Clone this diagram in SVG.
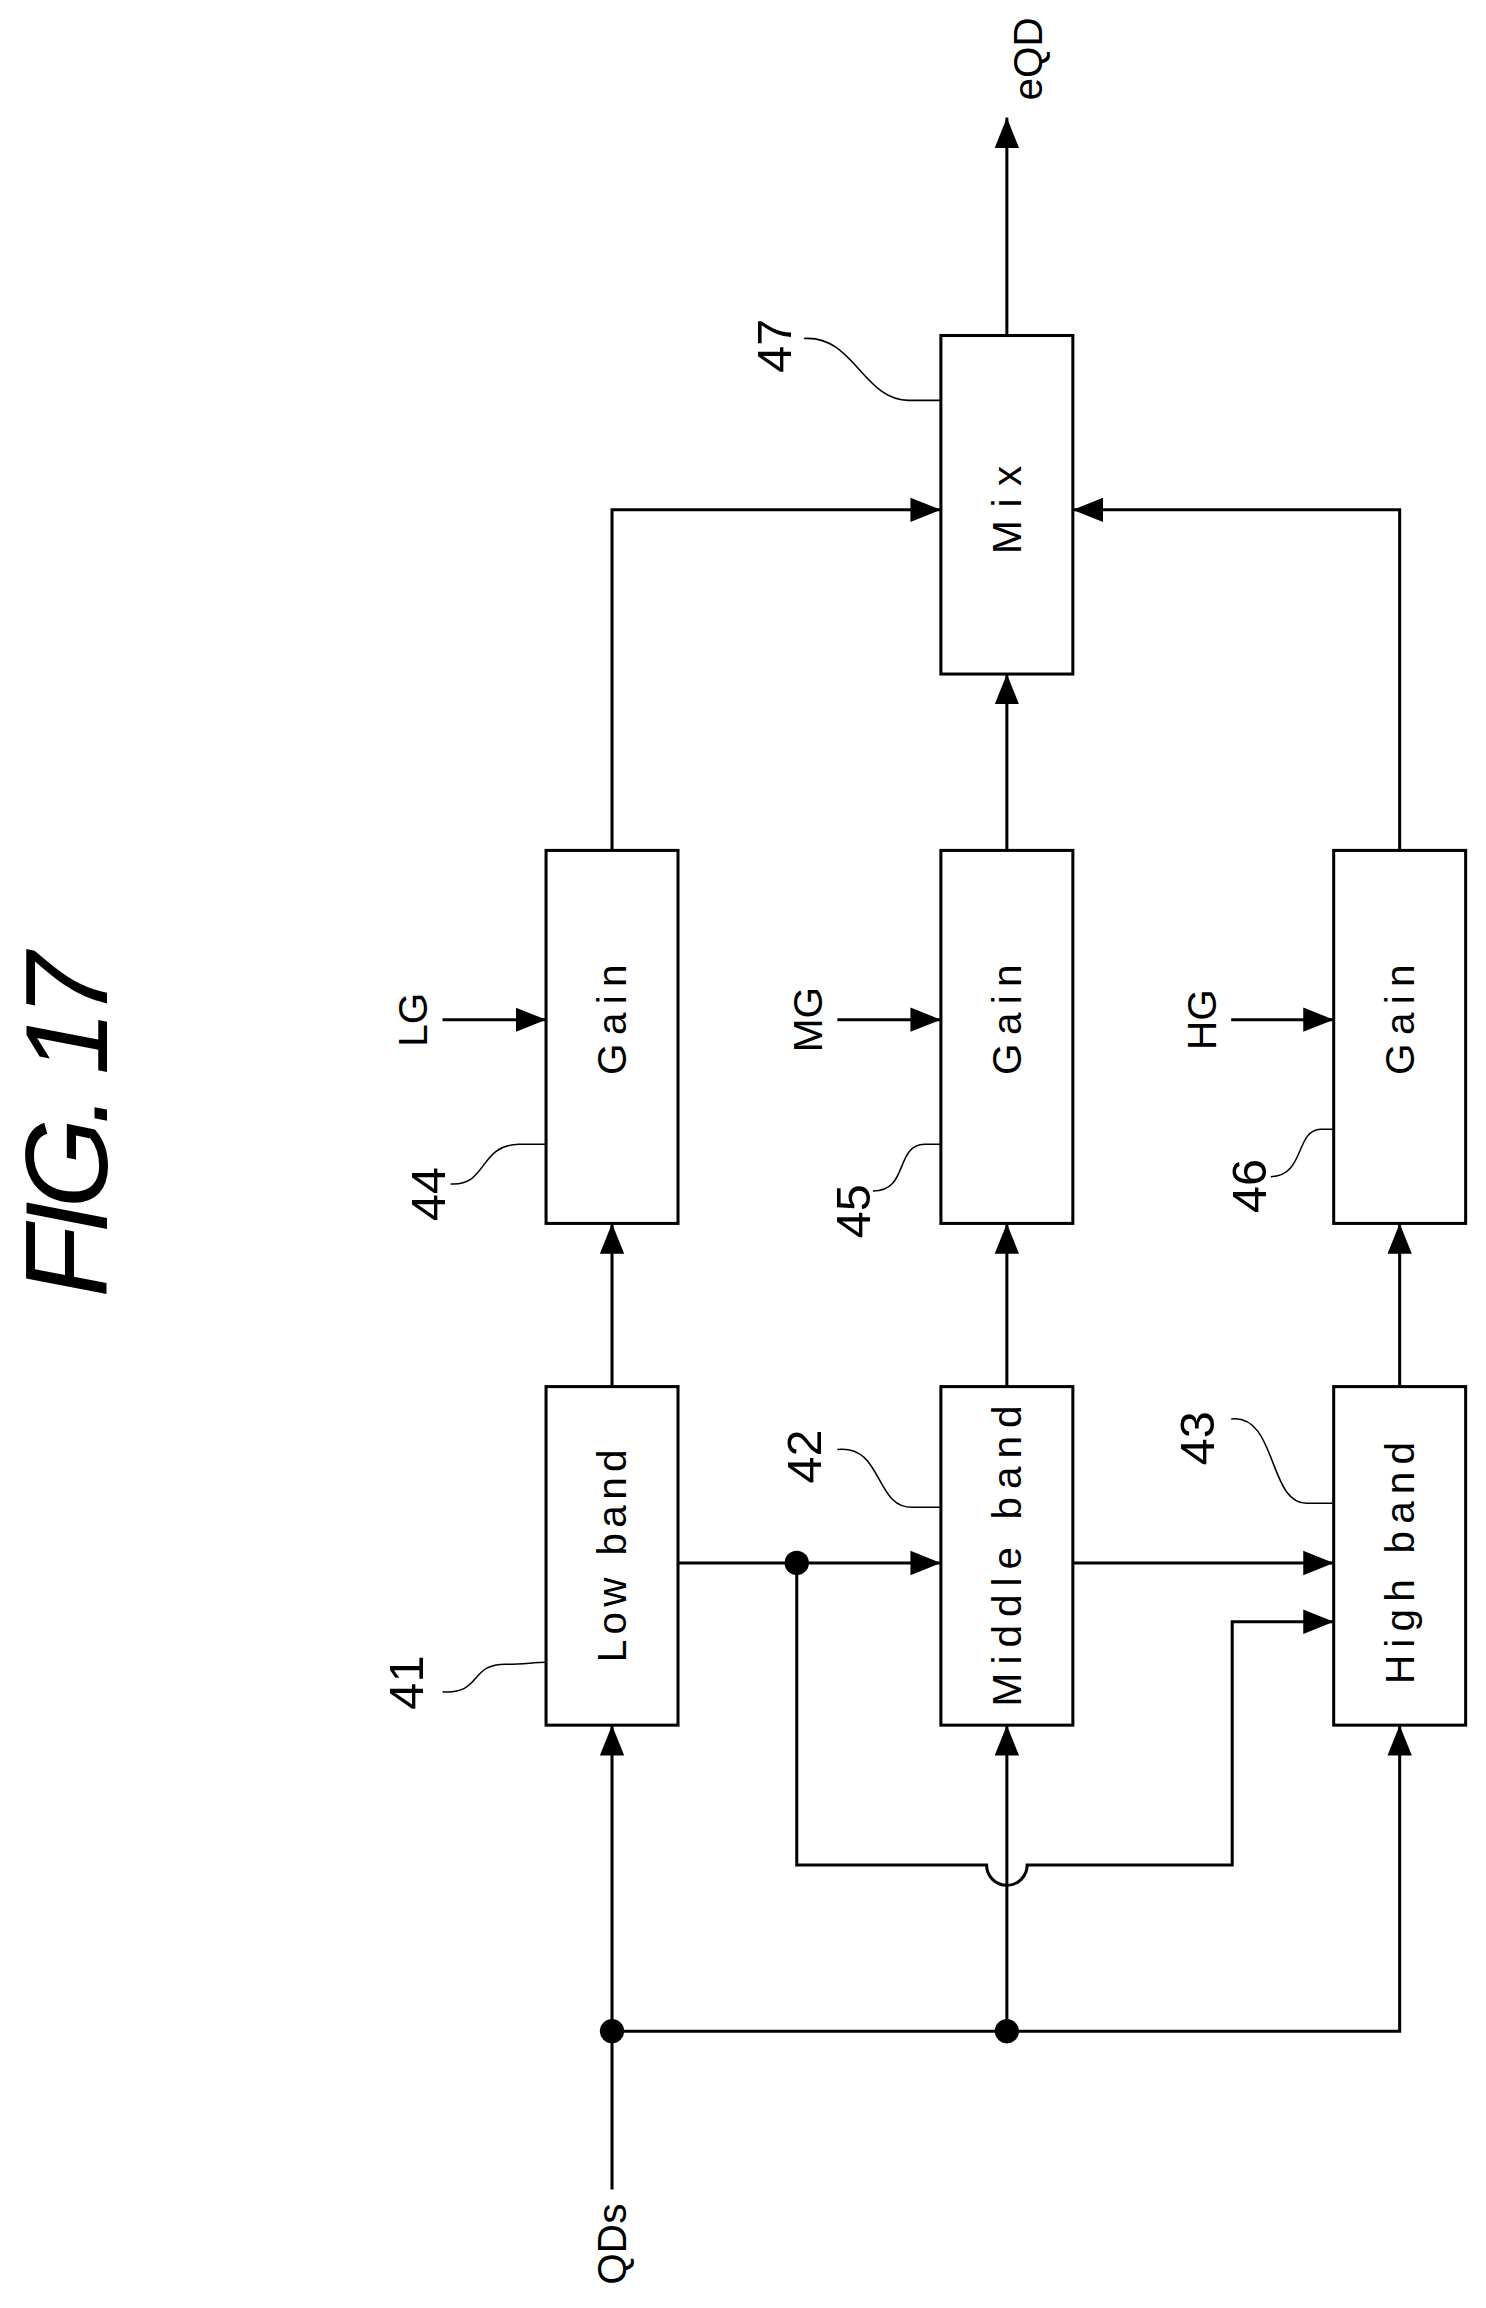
<svg xmlns="http://www.w3.org/2000/svg" width="1486" height="2308" viewBox="0 0 1486 2308">
<style>
.b{fill:#fff;stroke:#000;stroke-width:3}
.l{fill:none;stroke:#000;stroke-width:3}
.t{font-family:"Liberation Sans",Arial,sans-serif;font-size:40px;fill:#000;text-anchor:middle;dominant-baseline:central}
.n{font-family:"Liberation Sans",Arial,sans-serif;font-size:48px;fill:#000;text-anchor:middle;dominant-baseline:central}
.w{fill:none;stroke:#000;stroke-width:1.5}
</style>
<defs>
<marker id="a" markerUnits="userSpaceOnUse" markerWidth="30" markerHeight="30" viewBox="0 0 30 30" refX="30" refY="15" orient="auto"><path d="M0,3 L30,15 L0,27 Z" fill="#000"/></marker>
</defs>
<g transform="matrix(1.015 0 0 1.0136 1 0)">
<text x="65" y="1110" class="t" style="font-size:115px;font-style:italic" transform="rotate(-90 65 1110)" textLength="340" lengthAdjust="spacing">FIG. 17</text>
<g id="connectors">
<path class="l" d="M602,2160 V1702" marker-end="url(#a)"/>
<path class="l" d="M602,2004 H1378 V1702" marker-end="url(#a)"/>
<path class="l" d="M991,2004 V1702" marker-end="url(#a)"/>
<path class="l" d="M667,1542 H926" marker-end="url(#a)"/>
<path class="l" d="M1056,1542 H1313" marker-end="url(#a)"/>
<path class="l" d="M784,1542 V1840 H971 A20,20 0 0 0 1011,1840 H1213 V1600 H1313" marker-end="url(#a)"/>
<path class="l" d="M602,1368 V1207" marker-end="url(#a)"/>
<path class="l" d="M991,1368 V1207" marker-end="url(#a)"/>
<path class="l" d="M1378,1368 V1207" marker-end="url(#a)"/>
<path class="l" d="M435,1006 H537" marker-end="url(#a)"/>
<path class="l" d="M824,1006 H926" marker-end="url(#a)"/>
<path class="l" d="M1212,1006 H1313" marker-end="url(#a)"/>
<path class="l" d="M602,839 V503 H926" marker-end="url(#a)"/>
<path class="l" d="M991,839 V665" marker-end="url(#a)"/>
<path class="l" d="M1378,839 V503 H1056" marker-end="url(#a)"/>
<path class="l" d="M991,331 V116" marker-end="url(#a)"/>
<circle cx="602" cy="2004" r="12"/>
<circle cx="991" cy="2004" r="12"/>
<circle cx="784" cy="1542" r="12"/>
<path class="w" d="M435,1669 C475,1672 460,1640 500,1642 C515,1642 525,1640 537,1640"/>
<path class="w" d="M824,1430 C870,1425 860,1490 900,1487 L926,1487"/>
<path class="w" d="M1212,1400 C1258,1395 1248,1486 1288,1483 L1313,1483"/>
<path class="w" d="M443,1168 C480,1170 470,1130 510,1129 L537,1129"/>
<path class="w" d="M859,1175 C895,1175 880,1130 910,1129 L926,1129"/>
<path class="w" d="M1251,1161 C1285,1160 1275,1115 1300,1114 L1313,1114"/>
<path class="w" d="M791,334 C840,330 850,396 895,395 L926,395"/>
</g>
<g id="n41"><rect class="b" x="537" y="1368" width="130" height="334"/><text class="t" x="602" y="1535" transform="rotate(-90 602 1535)" textLength="210" lengthAdjust="spacing">Low band</text></g>
<g id="n42"><rect class="b" x="926" y="1368" width="130" height="334"/><text class="t" x="991" y="1535" transform="rotate(-90 991 1535)" textLength="297" lengthAdjust="spacing">Middle band</text></g>
<g id="n43"><rect class="b" x="1313" y="1368" width="130" height="334"/><text class="t" x="1378" y="1542" transform="rotate(-90 1378 1542)" textLength="239" lengthAdjust="spacing">High band</text></g>
<g id="n44"><rect class="b" x="537" y="839" width="130" height="368"/><text class="t" x="602" y="1006" transform="rotate(-90 602 1006)" textLength="109" lengthAdjust="spacing">Gain</text></g>
<g id="n45"><rect class="b" x="926" y="839" width="130" height="368"/><text class="t" x="991" y="1006" transform="rotate(-90 991 1006)" textLength="109" lengthAdjust="spacing">Gain</text></g>
<g id="n46"><rect class="b" x="1313" y="839" width="130" height="368"/><text class="t" x="1378" y="1006" transform="rotate(-90 1378 1006)" textLength="109" lengthAdjust="spacing">Gain</text></g>
<g id="n47"><rect class="b" x="926" y="331" width="130" height="334"/><text class="t" x="991" y="503" transform="rotate(-90 991 503)" textLength="87" lengthAdjust="spacing">Mix</text></g>
<g id="labels">
<text class="t" x="602" y="2214" transform="rotate(-90 602 2214)">QDs</text>
<text class="t" x="1012" y="58" transform="rotate(-90 1012 58)">eQD</text>
<text class="t" x="406" y="1006" transform="rotate(-90 406 1006)">LG</text>
<text class="t" x="795" y="1006" transform="rotate(-90 795 1006)">MG</text>
<text class="t" x="1183" y="1006" transform="rotate(-90 1183 1006)">HG</text>
<text class="n" x="399" y="1660" transform="rotate(-90 399 1660)">41</text>
<text class="n" x="791" y="1437" transform="rotate(-90 791 1437)">42</text>
<text class="n" x="1178" y="1419" transform="rotate(-90 1178 1419)">43</text>
<text class="n" x="421" y="1178" transform="rotate(-90 421 1178)">44</text>
<text class="n" x="839" y="1195" transform="rotate(-90 839 1195)">45</text>
<text class="n" x="1230" y="1170" transform="rotate(-90 1230 1170)">46</text>
<text class="n" x="762" y="341" transform="rotate(-90 762 341)">47</text>
</g>
</g>
</svg>
